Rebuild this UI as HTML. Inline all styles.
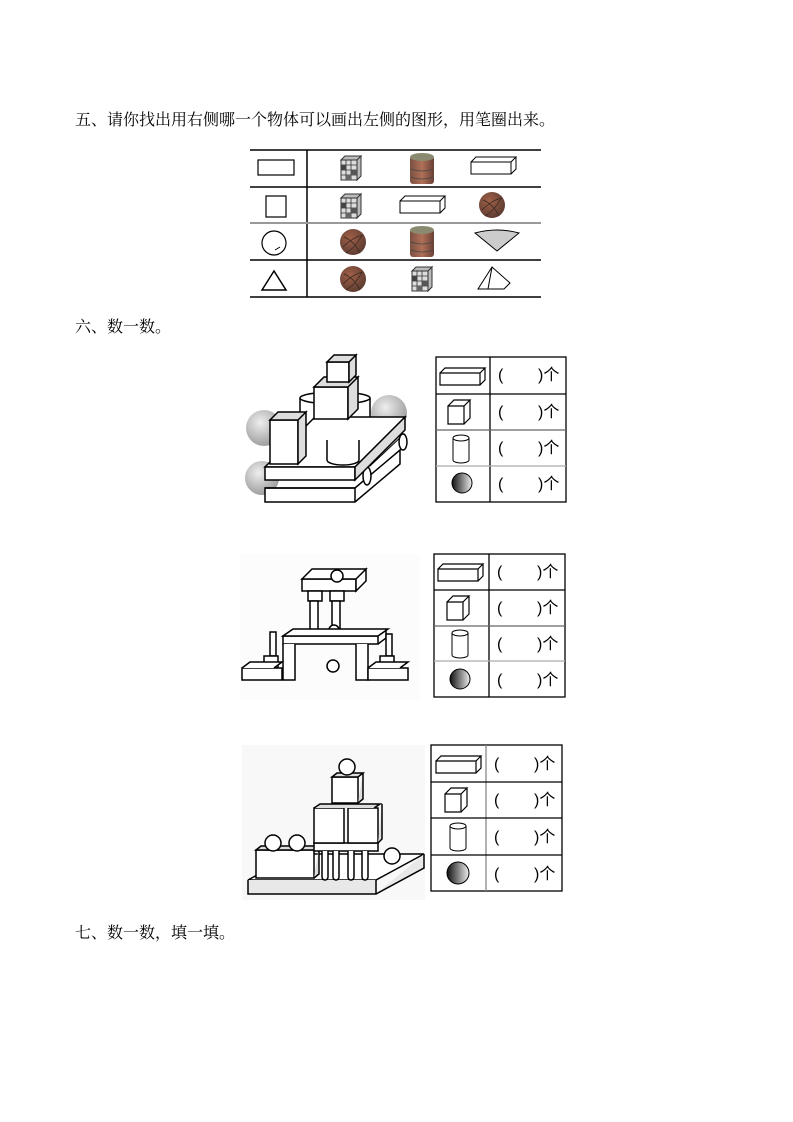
<!DOCTYPE html>
<html><head><meta charset="utf-8">
<style>
body{margin:0;background:#fff;}
#p{position:relative;width:793px;height:1122px;overflow:hidden;font-family:"Liberation Serif","Noto Serif CJK SC","Noto Sans CJK SC",serif;}
.h{position:absolute;left:75px;font-size:16px;color:#000;white-space:nowrap;}
.t{position:absolute;font-size:16px;line-height:20px;height:20px;font-family:"Liberation Sans","Noto Sans CJK SC",sans-serif;color:#000;}
svg{position:absolute;left:0;top:0;}
</style></head><body><div id="p">
<svg width="793" height="1122" viewBox="0 0 793 1122">
<defs>
<radialGradient id="bb" cx="0.4" cy="0.35" r="0.7"><stop offset="0" stop-color="#a06048"/><stop offset="1" stop-color="#5a3a30"/></radialGradient>
<linearGradient id="db" x1="0" x2="1"><stop offset="0" stop-color="#111"/><stop offset="1" stop-color="#eee"/></linearGradient>
<radialGradient id="gb" cx="0.4" cy="0.35" r="0.7"><stop offset="0" stop-color="#eee"/><stop offset="1" stop-color="#999"/></radialGradient>
<linearGradient id="bar" x1="0" x2="1"><stop offset="0" stop-color="#7a5040"/><stop offset="0.5" stop-color="#b07058"/><stop offset="1" stop-color="#6a4036"/></linearGradient>
<g id="rub"><rect x="0" y="4" width="16" height="20" fill="#ddd" stroke="#333"/><path d="M0 4l4-4h16l-4 4zM16 4l4-4v20l-4 4z" fill="#bbb" stroke="#333"/><path d="M0 9h16M0 14h16M0 19h16M5 4v20M10 4v20" stroke="#333" stroke-width="0.8"/><rect x="0" y="9" width="5" height="5" fill="#444"/><rect x="10" y="14" width="6" height="5" fill="#555"/><rect x="5" y="19" width="5" height="5" fill="#666"/></g>
<g id="barrel"><rect x="0" y="3" width="24" height="28" rx="3" fill="url(#bar)"/><ellipse cx="12" cy="4" rx="12" ry="4" fill="#8a8a70"/><path d="M1 16q11 4 22 0M1 24q11 4 22 0" stroke="#444" fill="none" stroke-width="0.8"/></g>
<g id="bask"><circle cx="13" cy="13" r="13" fill="url(#bb)"/><path d="M3 18q10-10 20-12M6 24q10-6 16-18M4 8q10 4 16 16" stroke="#3a2a22" fill="none" stroke-width="0.8"/></g>
<g id="box"><path d="M0 5h40v12h-40z M0 5l5-5h40l-5 5 M40 17l5-5v-12" fill="#fff" stroke="#000" stroke-width="1.2"/></g>
<g id="cube"><path d="M0 6h16v18h-16z M0 6l6-6h16l-6 6 M16 24l6-6v-18" fill="#fff" stroke="#000" stroke-width="1.2"/></g>
<g id="cyl"><path d="M0 4v22a8 3 0 0 0 16 0v-22" fill="#fff" stroke="#000"/><ellipse cx="8" cy="4" rx="8" ry="3" fill="#fff" stroke="#000"/></g>
</defs>
<g stroke="#000" fill="none">
<g stroke-width="1.5"><line x1="250" y1="150" x2="541" y2="150"/><line x1="250" y1="187" x2="541" y2="187"/><line x1="250" y1="260" x2="541" y2="260"/><line x1="250" y1="297" x2="541" y2="297"/><line x1="307" y1="150" x2="307" y2="297"/></g>
<line x1="250" y1="223" x2="541" y2="223" stroke="#999" stroke-width="2"/>
<rect x="258" y="160" width="36" height="15" stroke-width="1.2"/>
<rect x="266" y="196" width="20" height="21" stroke-width="1.2"/>
<circle cx="274" cy="243" r="12" stroke-width="1.2"/><path d="M275 250l5-3" />
<path d="M262 290l12-19 12 19z" stroke-width="1.5"/>
</g>
<use href="#rub" x="341" y="156"/><use href="#barrel" x="410" y="153"/>
<g transform="translate(471,157)"><path d="M0 5h40v12h-40z M0 5l5-5h40l-5 5 M40 17l5-5v-12" fill="#fff" stroke="#000"/></g>
<use href="#rub" x="341" y="194"/>
<g transform="translate(400,196)"><path d="M0 5h40v12h-40z M0 5l5-5h40l-5 5 M40 17l5-5v-12" fill="#fff" stroke="#000"/></g>
<use href="#bask" x="479" y="192"/>
<use href="#bask" x="340" y="229"/><use href="#barrel" x="410" y="226"/>
<path d="M475 233q22-6 44 0l-22 18z" fill="#ccc" stroke="#000"/>
<use href="#bask" x="340" y="266"/><use href="#rub" x="412" y="267"/>
<path d="M478 289l14-22 18 16-6 6zM492 267l-4 22" fill="#fff" stroke="#000"/>

<g stroke="#000" stroke-width="1.3" fill="none">
<rect x="436" y="357" width="130" height="145"/><line x1="490" y1="357" x2="490" y2="502"/><line x1="436" y1="394" x2="566" y2="394"/><line x1="436" y1="430" x2="566" y2="430" stroke="#666"/><line x1="436" y1="466" x2="566" y2="466" stroke="#aaa"/>
<rect x="434" y="554" width="131" height="143"/><line x1="489" y1="554" x2="489" y2="697"/><line x1="434" y1="590" x2="565" y2="590"/><line x1="434" y1="626" x2="565" y2="626" stroke="#666"/><line x1="434" y1="661" x2="565" y2="661" stroke="#aaa"/>
<rect x="431" y="745" width="131" height="146"/><line x1="486" y1="745" x2="486" y2="891" stroke="#888"/><line x1="431" y1="782" x2="562" y2="782"/><line x1="431" y1="818" x2="562" y2="818"/><line x1="431" y1="855" x2="562" y2="855"/>
</g>
<use href="#box" x="440" y="368"/><use href="#cube" x="448" y="400"/><use href="#cyl" x="453" y="434"/><circle cx="462" cy="483" r="10" fill="url(#db)" stroke="#000"/>
<use href="#box" x="438" y="564"/><use href="#cube" x="447" y="596"/><use href="#cyl" x="452" y="629"/><circle cx="460" cy="679" r="10" fill="url(#db)" stroke="#000"/>
<use href="#box" x="436" y="756"/><use href="#cube" x="445" y="788"/><use href="#cyl" x="450" y="822"/><circle cx="458" cy="873" r="11" fill="url(#db)" stroke="#000"/>

<g stroke="#000" stroke-width="1.5">
<circle cx="264" cy="428" r="18" fill="url(#gb)" stroke="none"/><circle cx="389" cy="413" r="18" fill="url(#gb)" stroke="none"/><circle cx="262" cy="478" r="17" fill="url(#gb)" stroke="none"/>
<path d="M300 398v42a35 6 0 0 0 70 0v-42" fill="#fff"/><ellipse cx="335" cy="398" rx="35" ry="6" fill="#fff"/>
<path d="M327 420v40a16 5 0 0 0 32 0v-40" fill="#fff"/>
<polygon points="265,488 355,488 400,450 400,464 355,502 265,502" fill="#fff"/>
<line x1="265" y1="488" x2="355" y2="488"/><line x1="355" y1="488" x2="355" y2="502"/>
<path d="M360 466h10l34-32h-8z" fill="#fff" stroke-width="1"/>
<ellipse cx="367" cy="476" rx="4" ry="9" fill="#fff"/>
<polygon points="265,467 355,467 405,417 315,417" fill="#fff"/>
<rect x="265" y="467" width="90" height="13" fill="#fff"/>
<polygon points="355,467 405,417 405,430 355,480" fill="#ddd"/>
<ellipse cx="403" cy="442" rx="4" ry="8" fill="#fff"/>
<path d="M327 440v20a16 5 0 0 0 32 0v-20" fill="#fff"/>
<path d="M270 420h28v44h-28z" fill="#fff"/><path d="M270 420l8-8h28l-8 8zM298 420l8-8v44l-8 8z" fill="#ddd"/>
<path d="M314 387h34v32h-34z" fill="#fff"/><path d="M314 387l10-10h34l-10 10zM348 387l10-10v32l-10 10z" fill="#ddd"/>
<path d="M327 362h22v20h-22z" fill="#fff"/><path d="M327 362l7-7h22l-7 7zM349 362l7-7v20l-7 7z" fill="#ddd"/>
</g>
<rect x="240" y="554" width="180" height="146" fill="#fcfcfc"/>
<g stroke="#000" stroke-width="1.5" fill="#fff">
<rect x="302" y="579" width="54" height="12"/><path d="M302 579l10-10h54l-10 10zM356 591l10-10v-12l-10 10z"/>
<circle cx="337" cy="576" r="6"/>
<rect x="308" y="591" width="14" height="10"/><rect x="330" y="591" width="14" height="10"/>
<rect x="310" y="601" width="8" height="35"/><rect x="332" y="601" width="8" height="35"/>
<circle cx="334" cy="630" r="5"/>
<rect x="283" y="636" width="95" height="8"/><path d="M283 636l10-7h95l-10 7zM378 644l8-6v-9"/>
<path d="M283 644v36h12v-36M356 644v36h12v-36"/>
<circle cx="333" cy="666" r="6"/>
<rect x="270" y="632" width="6" height="24"/><rect x="264" y="656" width="14" height="12"/><rect x="242" y="668" width="40" height="12"/><path d="M242 668l8-6h32l-8 6"/>
<rect x="386" y="634" width="6" height="22"/><rect x="380" y="656" width="14" height="12"/><rect x="368" y="668" width="40" height="12"/><path d="M368 668l8-6h32l-8 6"/>
</g>
<rect x="242" y="745" width="183" height="155" fill="#f8f8f8"/>
<g stroke="#000" stroke-width="1.5" fill="#fff">
<path d="M248 880h128l48-26h-128z"/><path d="M248 880v14h128v-14M376 894l48-26v-14" fill="#e8e8e8"/>
<rect x="256" y="850" width="58" height="28"/><path d="M256 850l5-4h58l-5 4zM314 878l5-4v-28" fill="#ddd"/>
<rect x="314" y="843" width="64" height="8"/>
<path d="M333 851v26a3 3 0 0 0 6 0v-26M348 851v26a3 3 0 0 0 6 0v-26M362 851v26a3 3 0 0 0 6 0v-26M322 851v26a3 3 0 0 0 6 0v-26"/>
<rect x="314" y="808" width="30" height="35"/><rect x="348" y="808" width="30" height="35"/><path d="M314 808l6-4h60l-6 4M378 843l4-4v-35" fill="#ddd"/>
<rect x="332" y="777" width="26" height="26"/><path d="M332 777l5-4h26l-5 4zM358 803l5-4v-26" fill="#ddd"/>
<circle cx="347" cy="767" r="8"/><circle cx="273" cy="843" r="8"/><circle cx="297" cy="843" r="8"/><circle cx="392" cy="856" r="8"/>
</g>
</svg>
<div class="h" style="top:107px">五、请你找出用右侧哪一个物体可以画出左侧的图形，用笔圈出来。</div>
<div class="h" style="top:314px">六、数一数。</div>
<div class="h" style="top:920px">七、数一数，填一填。</div>
<div class="t" style="left:498px;top:366px">(</div><div class="t" style="left:538px;top:366px">)个</div>
<div class="t" style="left:498px;top:403px">(</div><div class="t" style="left:538px;top:403px">)个</div>
<div class="t" style="left:498px;top:439px">(</div><div class="t" style="left:538px;top:439px">)个</div>
<div class="t" style="left:498px;top:475px">(</div><div class="t" style="left:538px;top:475px">)个</div>
<div class="t" style="left:497px;top:563px">(</div><div class="t" style="left:537px;top:563px">)个</div>
<div class="t" style="left:497px;top:599px">(</div><div class="t" style="left:537px;top:599px">)个</div>
<div class="t" style="left:497px;top:635px">(</div><div class="t" style="left:537px;top:635px">)个</div>
<div class="t" style="left:497px;top:671px">(</div><div class="t" style="left:537px;top:671px">)个</div>
<div class="t" style="left:494px;top:755px">(</div><div class="t" style="left:534px;top:755px">)个</div>
<div class="t" style="left:494px;top:791px">(</div><div class="t" style="left:534px;top:791px">)个</div>
<div class="t" style="left:494px;top:828px">(</div><div class="t" style="left:534px;top:828px">)个</div>
<div class="t" style="left:494px;top:865px">(</div><div class="t" style="left:534px;top:865px">)个</div>
</div></body></html>
